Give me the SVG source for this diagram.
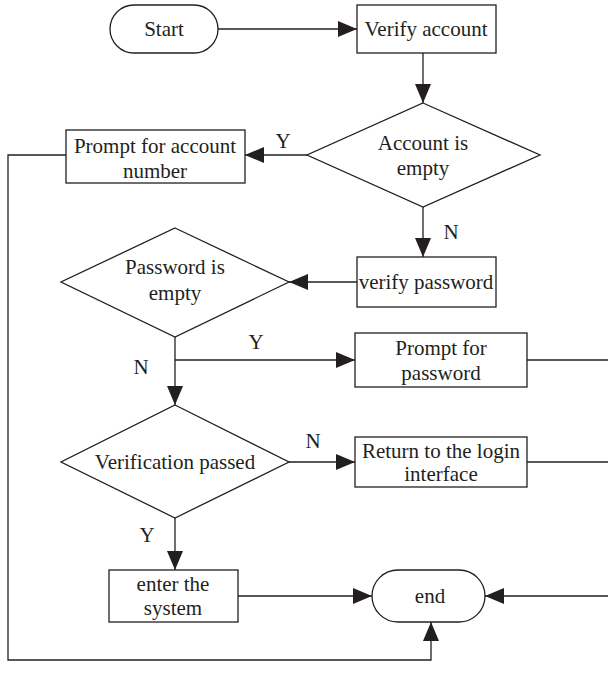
<svg xmlns="http://www.w3.org/2000/svg" width="608" height="688" viewBox="0 0 608 688">
<style>
.s{fill:#fff;stroke:#231f20;stroke-width:1.3}
.c{fill:none;stroke:#231f20;stroke-width:1.3}
text{font-family:"Liberation Serif",serif;font-size:21px;fill:#231f20;text-anchor:middle}
</style>
<defs>
<marker id="a" markerUnits="userSpaceOnUse" markerWidth="19" markerHeight="16" refX="19" refY="8" orient="auto">
<path d="M0,0 L19,8 L0,16 z" fill="#231f20"/>
</marker>
</defs>
<rect width="608" height="688" fill="#fff"/>
<g id="connectors">
<path class="c" d="M218,29 H357" marker-end="url(#a)"/>
<path class="c" d="M423,53 V103" marker-end="url(#a)"/>
<path class="c" d="M307,155 H245" marker-end="url(#a)"/>
<path class="c" d="M66,155 H8 V660 H431 V622" marker-end="url(#a)"/>
<path class="c" d="M423,207 V257" marker-end="url(#a)"/>
<path class="c" d="M357,282 H289" marker-end="url(#a)"/>
<path class="c" d="M175,337 V405" marker-end="url(#a)"/>
<path class="c" d="M175,360 H355" marker-end="url(#a)"/>
<path class="c" d="M527,360 H608"/>
<path class="c" d="M289,462 H355" marker-end="url(#a)"/>
<path class="c" d="M527,462 H608"/>
<path class="c" d="M175,518 V570" marker-end="url(#a)"/>
<path class="c" d="M238,596 H372" marker-end="url(#a)"/>
<path class="c" d="M608,596 H485" marker-end="url(#a)"/>
<text x="283" y="148">Y</text>
<text x="451" y="239">N</text>
<text x="256" y="349">Y</text>
<text x="141" y="374">N</text>
<text x="313" y="448">N</text>
<text x="147" y="542">Y</text>
</g>
<g id="start"><rect class="s" x="110" y="5" width="108" height="48" rx="24"/><text x="164" y="36">Start</text></g>
<g id="verify-account"><rect class="s" x="357" y="5" width="139" height="48"/><text x="426" y="36">Verify account</text></g>
<g id="account-empty"><polygon class="s" points="423,103 540,155 423,207 307,155"/><text x="423" y="150">Account is</text><text x="423" y="175">empty</text></g>
<g id="prompt-account"><rect class="s" x="66" y="130" width="179" height="53"/><text x="155" y="153">Prompt for account</text><text x="155" y="178">number</text></g>
<g id="verify-password"><rect class="s" x="357" y="257" width="139" height="50"/><text x="426" y="289">verify password</text></g>
<g id="password-empty"><polygon class="s" points="175,228 289,282 175,337 61,282"/><text x="175" y="274">Password is</text><text x="175" y="300">empty</text></g>
<g id="prompt-password"><rect class="s" x="355" y="333" width="172" height="54"/><text x="441" y="355">Prompt for</text><text x="441" y="380">password</text></g>
<g id="verification"><polygon class="s" points="175,405 289,462 175,518 61,462"/><text x="175" y="469">Verification passed</text></g>
<g id="return-login"><rect class="s" x="355" y="437" width="172" height="50"/><text x="441" y="458">Return to the login</text><text x="441" y="481">interface</text></g>
<g id="enter-system"><rect class="s" x="109" y="570" width="129" height="52"/><text x="173" y="591">enter the</text><text x="173" y="615">system</text></g>
<g id="end"><rect class="s" x="372" y="570" width="113" height="52" rx="26"/><text x="430" y="603">end</text></g>
</svg>
